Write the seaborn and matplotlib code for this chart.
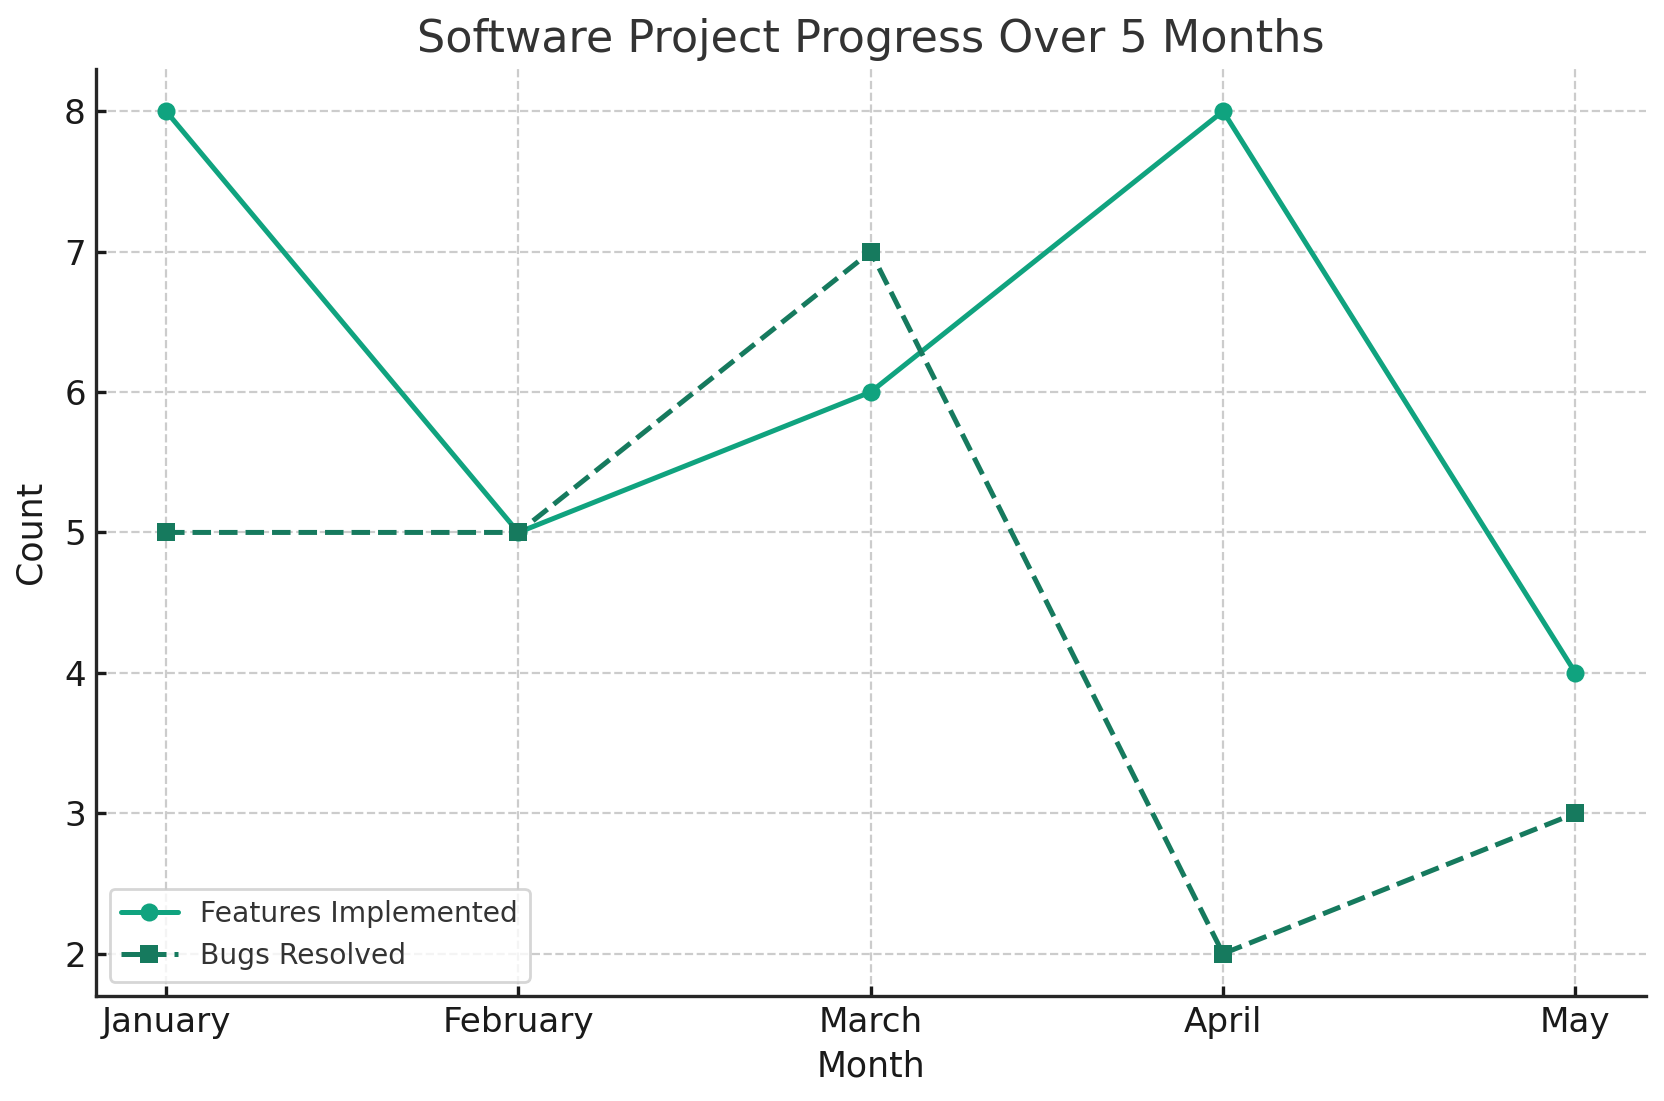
import matplotlib
matplotlib.use("Agg")
import matplotlib.pyplot as plt
import seaborn as sns
import pandas as pd

months = ["January", "February", "March", "April", "May"]
features = [8, 5, 6, 8, 4]
bugs = [5, 5, 7, 2, 3]

sns.set_style("ticks")
plt.rcParams['font.family'] = ['DejaVu Sans']

W, H = 1568, 1036
fig = plt.figure(figsize=(8.325, 5.505), dpi=200)
ax = fig.add_axes([90/W, 1 - 937/H, (1550-90)/W, (937-65)/H])

df = pd.DataFrame({"Month": months, "Features Implemented": features, "Bugs Resolved": bugs})
sns.lineplot(data=df, x="Month", y="Features Implemented", ax=ax, color="#10a37f",
             marker="o", markersize=6.5, linewidth=1.8, markeredgewidth=0,
             label="Features Implemented", sort=False)
sns.lineplot(data=df, x="Month", y="Bugs Resolved", ax=ax, color="#167a5e",
             marker="s", markersize=6.5, linewidth=1.8, markeredgewidth=0, linestyle="--",
             label="Bugs Resolved", sort=False)

ax.set_title("Software Project Progress Over 5 Months", fontsize=16, color="#333333")
ax.set_xlabel("Month", fontsize=12.5, color="#1a1a1a", labelpad=4)
ax.set_ylabel("Count", fontsize=12.5, color="#1a1a1a", labelpad=6)
ax.tick_params(labelsize=12.3, colors="#1a1a1a", width=1.2, length=3.5, direction="in")
for s in ax.spines.values():
    s.set_linewidth(1.2)
ax.grid(True, linestyle="--", color="#cccccc", linewidth=0.8)
ax.set_axisbelow(True)
ax.set_ylim(1.7, 8.3)
ax.set_xlim(-0.2, 4.2)
sns.despine(ax=ax)
leg = ax.legend(loc="lower left", fontsize=10.2, frameon=True)
for t in leg.get_texts():
    t.set_color("#333333")

fig.savefig("out.png", dpi=200)
